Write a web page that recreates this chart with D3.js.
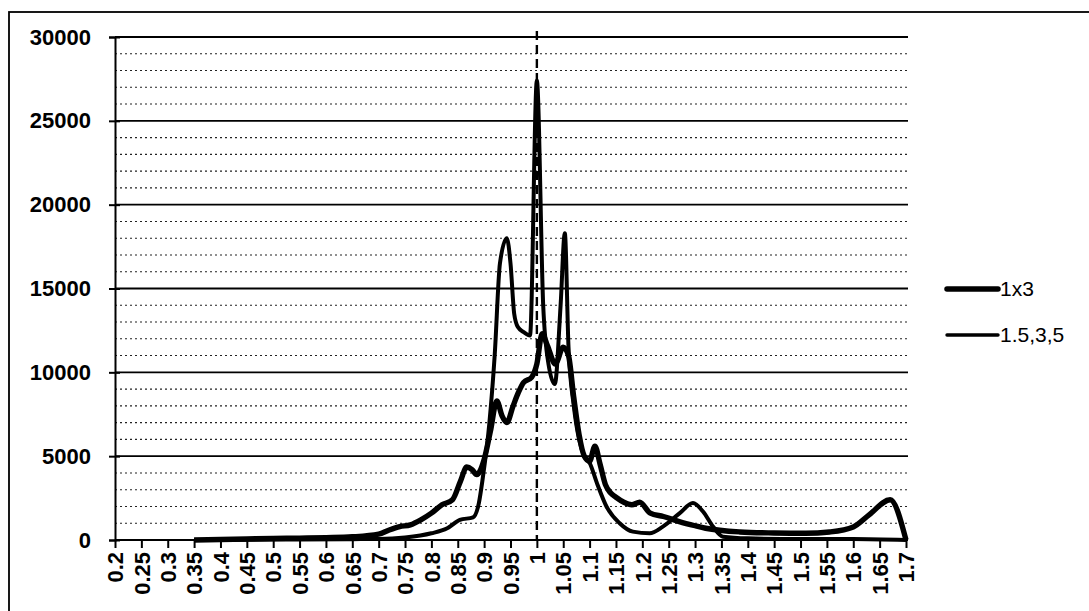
<!DOCTYPE html>
<html><head><meta charset="utf-8">
<script src="https://cdn.jsdelivr.net/npm/d3@7"></script>
<style>body{margin:0;background:#fff}svg{display:block}</style>
</head><body>
<svg id="c" width="1089" height="611"></svg>
<script>
// ---- data ----
const xTicks = [0.2,0.25,0.3,0.35,0.4,0.45,0.5,0.55,0.6,0.65,0.7,0.75,0.8,0.85,0.9,0.95,1,1.05,1.1,1.15,1.2,1.25,1.3,1.35,1.4,1.45,1.5,1.55,1.6,1.65,1.7];
const yTicks = [0,5000,10000,15000,20000,25000,30000];
const seriesNames = ["1x3","1.5,3,5"];
const x1x3 = [0.35,0.40,0.45,0.50,0.55,0.60,0.65,0.70,0.72,0.74,0.76,0.78,0.80,0.82,0.84,0.855,0.867,0.877,0.886,0.90,0.912,0.924,0.934,0.943,0.955,0.965,0.975,0.99,1.0,1.01,1.02,1.035,1.05,1.06,1.07,1.08,1.09,1.10,1.11,1.12,1.13,1.14,1.15,1.165,1.18,1.195,1.215,1.24,1.27,1.30,1.32,1.385,1.45,1.51,1.555,1.60,1.63,1.67,1.70];
const y1x3 = [0,30,60,90,110,140,190,350,600,800,900,1200,1600,2100,2400,3500,4350,4200,3900,4800,6500,8300,7400,7000,8000,8800,9400,9700,10500,12300,11600,10500,11500,11000,8500,6300,5000,4700,5600,4500,3300,2800,2550,2250,2100,2250,1600,1400,1100,850,700,480,420,400,480,780,1500,2400,0];
const x135 = [0.35,0.45,0.55,0.65,0.70,0.75,0.80,0.83,0.854,0.879,0.89,0.897,0.91,0.92,0.93,0.943,0.95,0.957,0.964,0.975,0.987,1.0,1.012,1.022,1.034,1.045,1.053,1.06,1.07,1.08,1.09,1.10,1.115,1.132,1.157,1.182,1.214,1.239,1.271,1.296,1.315,1.334,1.353,1.40,1.50,1.60,1.70];
const y135 = [0,20,30,50,60,150,400,700,1200,1350,2200,3600,7000,11000,16500,18000,16500,13500,12700,12400,12200,27400,14000,10500,9300,14000,18300,11500,8000,6000,5000,4600,3300,2000,1000,500,400,800,1600,2200,1700,800,200,100,60,60,0];

// ---- layout ----
const svg = d3.select("#c");
const L = 115, R = 906, T = 37, B = 540, gridR = 908;
const x = d3.scaleLinear().domain([0.2,1.7]).range([L,R]);
const y = d3.scaleLinear().domain([0,30000]).range([B,T]);
const font = "'Liberation Sans', Arial, sans-serif";

// chart area frame (partially off-page)
svg.append("rect").attr("x",9).attr("y",12).attr("width",1200).attr("height",800)
  .attr("fill","none").attr("stroke","#000").attr("stroke-width",1.8);

// minor gridlines
const minor = d3.range(1000,30000,1000).filter(v=>v%5000!==0);
svg.append("g").selectAll("line").data(minor).join("line")
  .attr("x1",L).attr("x2",gridR).attr("y1",d=>y(d)).attr("y2",d=>y(d))
  .attr("stroke","#222").attr("stroke-width",1.1).attr("stroke-dasharray","2,3");
// major gridlines
svg.append("g").selectAll("line").data(yTicks.filter(d=>d>0)).join("line")
  .attr("x1",L).attr("x2",gridR).attr("y1",d=>y(d)).attr("y2",d=>y(d))
  .attr("stroke","#000").attr("stroke-width",1.8);

// y axis
const ya = svg.append("g").attr("transform",`translate(${L},0)`)
  .call(d3.axisLeft(y).tickValues(yTicks).tickSize(6).tickPadding(18).tickFormat(d3.format("d")));
ya.select(".domain").attr("stroke-width",2);
ya.selectAll(".tick line").attr("x2",5).attr("x1",-6).attr("stroke-width",2);
ya.selectAll("text").attr("font-family",font).attr("font-size",22).attr("font-weight","bold").attr("fill","#000");

// x axis
const xa = svg.append("g").attr("transform",`translate(0,${B})`)
  .call(d3.axisBottom(x).tickValues(xTicks).tickSize(8).tickSizeOuter(0).tickFormat(d=>String(d)));
xa.select(".domain").attr("stroke-width",2).attr("d",`M${L},0H${gridR}`);
xa.selectAll(".tick line").attr("stroke-width",2);
xa.selectAll("text").attr("font-family",font).attr("font-size",22).attr("font-weight","bold").attr("fill","#000")
  .attr("text-anchor","end").attr("transform","rotate(-90)").attr("dy","0.35em").attr("x",-12).attr("y",0);

// dashed line at 1
svg.append("line").attr("x1",x(1)).attr("x2",x(1)).attr("y1",T-6).attr("y2",B)
  .attr("stroke","#000").attr("stroke-width",2.4).attr("stroke-dasharray","9,5");

// series
const line = d3.line().x(d=>x(d[0])).y(d=>y(d[1])).curve(d3.curveMonotoneX);
const d1 = x1x3.map((v,i)=>[v,y1x3[i]]);
const d2 = x135.map((v,i)=>[v,y135[i]]);
svg.append("path").datum(d2).attr("d",line).attr("fill","none").attr("stroke","#000").attr("stroke-width",4).attr("stroke-linejoin","round");
svg.append("path").datum(d1).attr("d",line).attr("fill","none").attr("stroke","#000").attr("stroke-width",5.4).attr("stroke-linejoin","round");

// legend
const lg = svg.append("g");
const legW = [5.5,3.4], legY = [289,335];
seriesNames.forEach((n,i)=>{
  lg.append("line").attr("x1",947).attr("x2",998).attr("y1",legY[i]).attr("y2",legY[i])
    .attr("stroke","#000").attr("stroke-width",legW[i]).attr("stroke-linecap","round");
  lg.append("text").attr("x",1000).attr("y",legY[i]).attr("dy","0.35em").text(n)
    .attr("font-family",font).attr("font-size",21).attr("fill","#000");
});
</script>
</body></html>
